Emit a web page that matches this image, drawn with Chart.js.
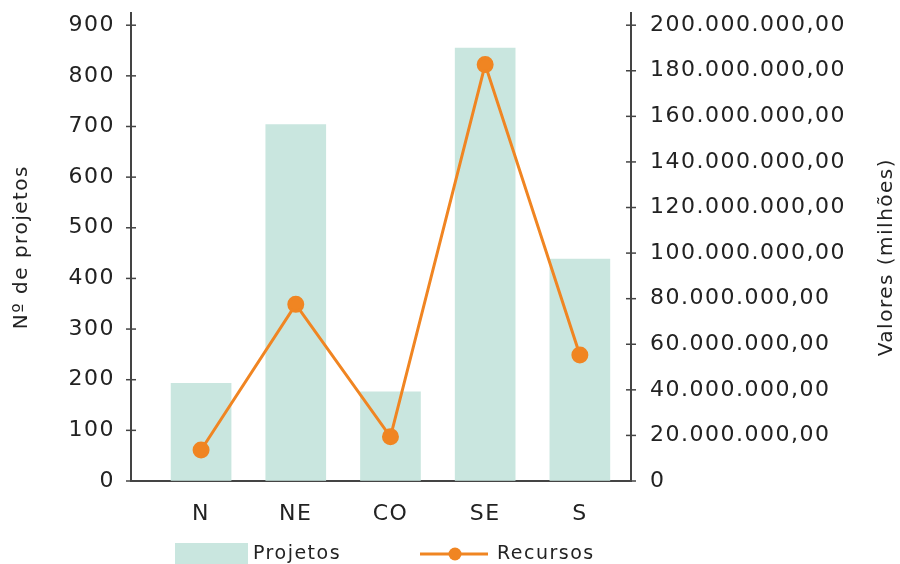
<!DOCTYPE html>
<html>
<head>
<meta charset="utf-8">
<script src="https://cdn.jsdelivr.net/npm/chart.js@4.4.1/dist/chart.umd.min.js"></script>
<style>
  html, body { margin: 0; padding: 0; background: #fff; }
  #wrap { width: 900px; height: 564px; }
</style>
</head>
<body>
<div id="wrap"><canvas id="grafico" width="900" height="564"></canvas></div>
<script>
const regioes = ['N', 'NE', 'CO', 'SE', 'S'];
const projetos = [193, 704, 176, 855, 438];
const recursos = [13600000, 77500000, 19400000, 182700000, 55300000];
const ticksProjetos = [0, 100, 200, 300, 400, 500, 600, 700, 800, 900];
const ticksRecursos = [0, 20000000, 40000000, 60000000, 80000000, 100000000,
  120000000, 140000000, 160000000, 180000000, 200000000];

const FONTE = '"DejaVu Sans", sans-serif';
const COR_TEXTO = '#222';
const COR_EIXO = '#444';
const COR_BARRA = '#c9e6df';
const COR_LINHA = '#f08522';

// 200000000 -> "200.000.000,00"
const formataValor = (v) => {
  if (v === 0) return '0';
  return String(Math.round(v)).replace(/\B(?=(\d{3})+(?!\d))/g, '.') + ',00';
};

// the original font is wider, so spread the letters a bit
const espacamento = {
  id: 'espacamento',
  beforeDraw(chart) { chart.ctx.save(); chart.ctx.letterSpacing = '1.5px'; },
  afterDraw(chart) { chart.ctx.restore(); }
};

// tick marks crossing the axes + right title + legend
const extras = {
  id: 'extras',
  afterDraw(chart) {
    const ctx = chart.ctx;
    const area = chart.chartArea;
    const yE = chart.scales.y;
    const yD = chart.scales.y1;
    ctx.save();
    ctx.strokeStyle = COR_EIXO;
    ctx.lineWidth = 1.5;
    yE.ticks.forEach((t) => {
      const py = yE.getPixelForValue(t.value);
      ctx.beginPath(); ctx.moveTo(area.left - 5, py); ctx.lineTo(area.left + 5, py); ctx.stroke();
    });
    yD.ticks.forEach((t) => {
      const py = yD.getPixelForValue(t.value);
      ctx.beginPath(); ctx.moveTo(area.right - 5, py); ctx.lineTo(area.right + 5, py); ctx.stroke();
    });

    // right axis title, reading bottom to top
    ctx.fillStyle = COR_TEXTO;
    ctx.font = '20px ' + FONTE;
    ctx.letterSpacing = '1.5px';
    ctx.textAlign = 'center';
    ctx.textBaseline = 'middle';
    ctx.translate(887, (area.top + area.bottom) / 2 + 10);
    ctx.rotate(-Math.PI / 2);
    ctx.fillText('Valores (milhões)', 0, 0);
    ctx.restore();

    // legend
    ctx.save();
    ctx.font = '19px ' + FONTE;
    ctx.letterSpacing = '1.5px';
    ctx.textBaseline = 'middle';
    const ly = 554;
    ctx.fillStyle = COR_BARRA;
    ctx.fillRect(175, 543, 73, 24);
    ctx.fillStyle = COR_TEXTO;
    ctx.fillText(chart.data.datasets[1].label, 253, ly);
    ctx.strokeStyle = COR_LINHA;
    ctx.lineWidth = 3;
    ctx.beginPath(); ctx.moveTo(420, ly); ctx.lineTo(488, ly); ctx.stroke();
    ctx.fillStyle = COR_LINHA;
    ctx.beginPath(); ctx.arc(455, ly, 6.5, 0, Math.PI * 2); ctx.fill();
    ctx.fillStyle = COR_TEXTO;
    ctx.fillText(chart.data.datasets[0].label, 497, ly);
    ctx.restore();
  }
};

const ctx = document.getElementById('grafico').getContext('2d');
const grafico = new Chart(ctx, {
  data: {
    datasets: [{
      type: 'line',
      label: 'Recursos',
      data: recursos.map((v, i) => ({ x: i, y: v })),
      yAxisID: 'y1',
      borderColor: COR_LINHA,
      backgroundColor: COR_LINHA,
      borderWidth: 3,
      pointRadius: 7,
      pointHoverRadius: 7,
      tension: 0,
      order: 0
    }, {
      type: 'bar',
      label: 'Projetos',
      data: projetos.map((v, i) => ({ x: i, y: v })),
      yAxisID: 'y',
      backgroundColor: COR_BARRA,
      barThickness: 60,
      order: 1
    }]
  },
  options: {
    responsive: false,
    animation: false,
    layout: { padding: { top: 0, bottom: 33, left: 0, right: 0 } },
    plugins: {
      legend: { display: false },
      tooltip: { enabled: false }
    },
    scales: {
      x: {
        type: 'linear',
        offset: false,
        min: -0.74,
        max: 4.54,
        afterBuildTicks: (s) => { s.ticks = regioes.map((r, i) => ({ value: i })); },
        afterFit: (s) => { s.height = 50; },
        grid: { display: false, drawTicks: false, offset: false },
        border: { color: COR_EIXO, width: 2 },
        ticks: {
          padding: 20,
          color: COR_TEXTO,
          font: { family: FONTE, size: 22 },
          callback: (v) => regioes[v]
        }
      },
      y: {
        position: 'left',
        min: 0,
        max: 923.7,
        afterBuildTicks: (s) => { s.ticks = ticksProjetos.map((v) => ({ value: v })); },
        afterFit: (s) => { s.width = 131; },
        // tick marks are drawn by the plugin, this only spaces the labels
        grid: { drawOnChartArea: false, tickLength: 16, color: 'rgba(0,0,0,0)' },
        border: { color: COR_EIXO, width: 2 },
        ticks: {
          padding: 0,
          color: COR_TEXTO,
          font: { family: FONTE, size: 22 }
        },
        title: {
          display: true,
          text: 'Nº de projetos',
          color: COR_TEXTO,
          font: { family: FONTE, size: 20 },
          padding: { top: 10, bottom: 0 }
        }
      },
      y1: {
        position: 'right',
        min: 0,
        max: 205260000,
        afterBuildTicks: (s) => { s.ticks = ticksRecursos.map((v) => ({ value: v })); },
        afterFit: (s) => { s.width = 269; },
        grid: { drawOnChartArea: false, tickLength: 19, color: 'rgba(0,0,0,0)' },
        border: { color: COR_EIXO, width: 2 },
        ticks: {
          padding: 0,
          color: COR_TEXTO,
          font: { family: FONTE, size: 22 },
          callback: (v) => formataValor(v)
        }
      }
    }
  },
  plugins: [espacamento, extras]
});
</script>
</body>
</html>
